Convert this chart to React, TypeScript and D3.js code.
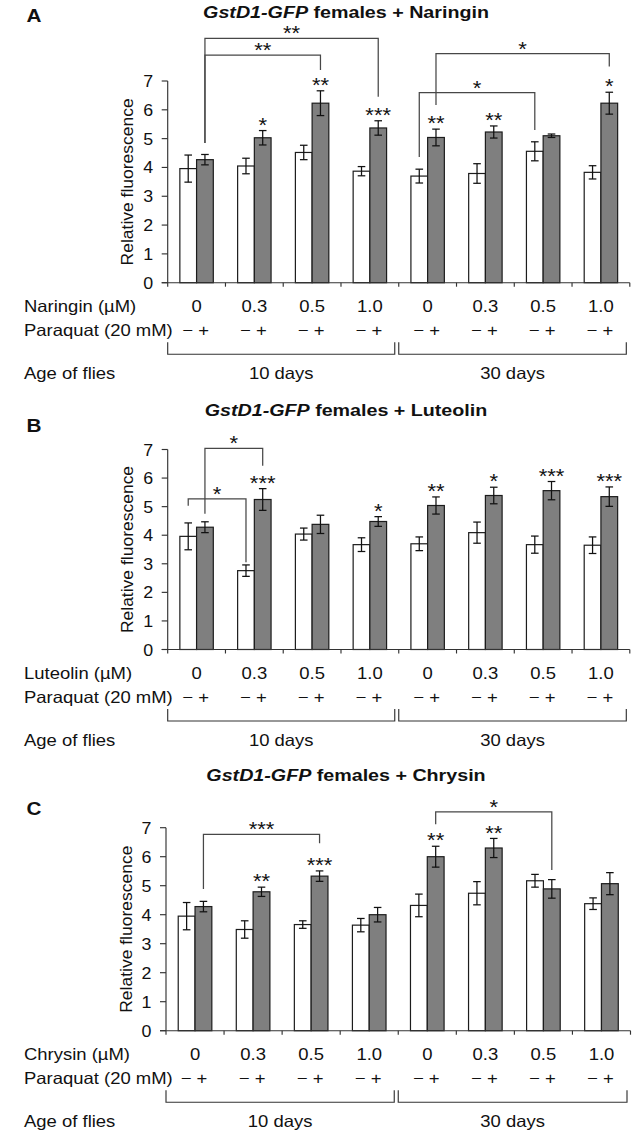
import React, { useEffect } from "react";
import * as d3 from "d3";

// ---------- data ----------
const doses = ["0", "0.3", "0.5", "1.0", "0", "0.3", "0.5", "1.0"];
const ages = ["10 days", "30 days"];
const yTicks = [0, 1, 2, 3, 4, 5, 6, 7];

// Panel A: Naringin
const naringinCtrl = [3.96, 4.05, 4.52, 3.87, 3.7, 3.79, 4.56, 3.83];
const naringinCtrlErr = [0.47, 0.27, 0.25, 0.16, 0.24, 0.34, 0.33, 0.23];
const naringinPq = [4.27, 5.03, 6.23, 5.37, 5.04, 5.23, 5.1, 6.23];
const naringinPqErr = [0.18, 0.25, 0.43, 0.25, 0.29, 0.21, 0.06, 0.38];
const naringinStars = ["", "*", "**", "***", "**", "**", "", "*"];
const naringinBrackets = [
  { from: 0, fromBar: "p", to: 3, toBar: "p", level: 8.48, fromEnd: 4.85, toEnd: 6.45, label: "**" },
  { from: 0, fromBar: "p", to: 2, toBar: "p", level: 7.9, fromEnd: 4.85, toEnd: 7.38, label: "**" },
  { from: 4, fromBar: "c", to: 6, toBar: "c", level: 6.6, fromEnd: 4.36, toEnd: 5.3, label: "*" },
  { from: 4, fromBar: "p", to: 7, toBar: "p", level: 7.95, fromEnd: 6.17, toEnd: 7.5, label: "*" },
];

// Panel B: Luteolin
const luteolinCtrl = [3.96, 2.76, 4.04, 3.67, 3.7, 4.09, 3.67, 3.65];
const luteolinCtrlErr = [0.47, 0.2, 0.21, 0.24, 0.24, 0.37, 0.3, 0.29];
const luteolinPq = [4.28, 5.25, 4.38, 4.48, 5.04, 5.39, 5.56, 5.35];
const luteolinPqErr = [0.19, 0.38, 0.32, 0.17, 0.3, 0.29, 0.32, 0.34];
const luteolinStars = ["", "***", "", "*", "**", "*", "***", "***"];
const luteolinBrackets = [
  { from: 0, fromBar: "p", to: 1, toBar: "p", level: 7.04, fromEnd: 4.75, toEnd: 6.43, label: "*" },
  { from: 0, fromBar: "c", to: 1, toBar: "c", level: 5.27, fromEnd: 5.03, toEnd: 3.05, label: "*" },
];

// Panel C: Chrysin
const chrysinCtrl = [3.95, 3.49, 3.66, 3.64, 4.32, 4.74, 5.17, 4.38];
const chrysinCtrlErr = [0.47, 0.3, 0.13, 0.23, 0.39, 0.4, 0.22, 0.2];
const chrysinPq = [4.28, 4.79, 5.33, 4.0, 6.0, 6.3, 4.89, 5.07];
const chrysinPqErr = [0.18, 0.16, 0.18, 0.25, 0.36, 0.33, 0.32, 0.38];
const chrysinStars = ["", "**", "***", "", "**", "**", "", ""];
const chrysinBrackets = [
  { from: 0, fromBar: "p", to: 2, toBar: "p", level: 6.77, fromEnd: 4.89, toEnd: 6.46, label: "***" },
  { from: 4, fromBar: "p", to: 6, toBar: "p", level: 7.55, fromEnd: 7.12, toEnd: 5.54, label: "*" },
];

// ---------- styles ----------
const FONT = "'Liberation Sans', Arial, Helvetica, sans-serif";
const INK = "#111";
const GRAY = "#7f7f7f";
const BRACKET = "#474747";
const STAR_FS = 21;
const LABEL_FS = 16.5;
const LABEL_SX = 1.12;

type TProps = {
  x: number;
  y: number;
  sx?: number;
  anchor?: "start" | "middle" | "end";
  size?: number;
  weight?: string;
  rotate?: number;
  children: React.ReactNode;
};

function T({ x, y, sx = LABEL_SX, anchor = "start", size = LABEL_FS, weight = "normal", rotate = 0, children }: TProps) {
  return (
    <text
      transform={`translate(${x},${y})${rotate ? ` rotate(${rotate})` : ""} scale(${sx},1)`}
      textAnchor={anchor}
      fontSize={size}
      fontWeight={weight}
      fontFamily={FONT}
      fill={INK}
    >
      {children}
    </text>
  );
}

type Bracket = {
  from: number;
  fromBar: string;
  to: number;
  toBar: string;
  level: number;
  fromEnd: number;
  toEnd: number;
  label: string;
};

type PanelProps = {
  letter: string;
  letterY: number;
  compound: string;
  titleY: number;
  x0: number;
  x1: number;
  y0: number;
  yTop: number;
  ctrl: number[];
  ctrlErr: number[];
  pq: number[];
  pqErr: number[];
  stars: string[];
  brackets: Bracket[];
};

function Panel(p: PanelProps) {
  const groups = d3.range(doses.length);
  const x = d3.scaleBand<number>().domain(groups).range([p.x0, p.x1]).padding(0);
  const gw = x.bandwidth();
  const inner = d3.scaleBand<string>().domain(["c", "p"]).range([0, gw]).paddingInner(0).paddingOuter(0.7275);
  const bw = inner.bandwidth();
  const y = d3.scaleLinear().domain([0, 7]).range([p.y0, p.yTop]);
  const bc = (i: number, k: string) => (x(i) as number) + (inner(k) as number) + bw / 2;
  const gc = (i: number) => (x(i) as number) + gw / 2;
  const xMid = (p.x0 + p.x1) / 2;

  const series = [
    { key: "c", vals: p.ctrl, errs: p.ctrlErr, fill: "#ffffff" },
    { key: "p", vals: p.pq, errs: p.pqErr, fill: GRAY },
  ];

  return (
    <g>
      {/* panel letter and title */}
      <T x={26.5} y={p.letterY} size={18} weight="bold" sx={1.15}>
        {p.letter}
      </T>
      <T x={346} y={p.titleY} size={16} weight="bold" sx={1.23} anchor="middle">
        <tspan fontStyle="italic">GstD1-GFP</tspan>
        <tspan>{` females + ${p.compound}`}</tspan>
      </T>

      {/* bars */}
      {series.map((s) =>
        s.vals.map((v, i) => (
          <rect
            key={s.key + i}
            x={bc(i, s.key) - bw / 2}
            y={y(v)}
            width={bw}
            height={p.y0 - y(v)}
            fill={s.fill}
            stroke="#1c1c1c"
            strokeWidth={1.2}
          />
        ))
      )}

      {/* error bars */}
      {series.map((s) =>
        s.vals.map((v, i) => {
          const cx = bc(i, s.key);
          const hi = y(v + s.errs[i]);
          const lo = y(v - s.errs[i]);
          return (
            <g key={"e" + s.key + i} stroke="#111" strokeWidth={1.25}>
              <line x1={cx} x2={cx} y1={hi} y2={lo} />
              <line x1={cx - 3.8} x2={cx + 3.8} y1={hi} y2={hi} />
              <line x1={cx - 3.8} x2={cx + 3.8} y1={lo} y2={lo} />
            </g>
          );
        })
      )}

      {/* stars above paraquat bars */}
      {p.stars.map((s, i) =>
        s ? (
          <T
            key={"s" + i}
            x={bc(i, "p")}
            y={y(p.pq[i] + p.pqErr[i]) - 11 + 0.575 * STAR_FS}
            size={STAR_FS}
            sx={1.05}
            anchor="middle"
          >
            {s}
          </T>
        ) : null
      )}

      {/* significance brackets */}
      {p.brackets.map((b, k) => {
        const xa = bc(b.from, b.fromBar);
        const xb = bc(b.to, b.toBar);
        const yl = y(b.level);
        return (
          <g key={"b" + k}>
            <path
              d={`M${xa},${y(b.fromEnd)}V${yl}H${xb}V${y(b.toEnd)}`}
              fill="none"
              stroke={BRACKET}
              strokeWidth={1.25}
            />
            <T x={(xa + xb) / 2} y={yl - 10 + 0.575 * STAR_FS} size={STAR_FS} sx={1.05} anchor="middle">
              {b.label}
            </T>
          </g>
        );
      })}

      {/* axes */}
      <g stroke="#333" strokeWidth={1.15} fill="none">
        <line x1={p.x0} x2={p.x0} y1={p.y0} y2={p.yTop} />
        <line x1={p.x0 - 6} x2={p.x1} y1={p.y0} y2={p.y0} />
        {yTicks.map((t) => (
          <line key={"yt" + t} x1={p.x0 - 6} x2={p.x0} y1={y(t)} y2={y(t)} />
        ))}
        {d3.range(doses.length + 1).map((i) => (
          <line key={"xt" + i} x1={p.x0 + i * gw} x2={p.x0 + i * gw} y1={p.y0} y2={p.y0 + 4} />
        ))}
      </g>
      {yTicks.map((t) => (
        <T key={"yl" + t} x={p.x0 - 14.5} y={y(t) + 6} anchor="end" sx={1.08}>
          {String(t)}
        </T>
      ))}
      <T x={p.x0 - 34.5} y={(p.y0 + p.yTop) / 2} rotate={-90} anchor="middle" sx={1.06}>
        Relative fluorescence
      </T>

      {/* category rows */}
      <T x={24} y={p.y0 + 29.5}>{`${p.compound} (µM)`}</T>
      <T x={24} y={p.y0 + 53.2}>Paraquat (20 mM)</T>
      <T x={24} y={p.y0 + 96}>Age of flies</T>
      {doses.map((d, i) => (
        <T key={"d" + i} x={gc(i)} y={p.y0 + 29.5} anchor="middle">
          {d}
        </T>
      ))}
      {doses.map((_, i) => (
        <T key={"pm" + i} x={gc(i) - 1} y={p.y0 + 53.2} anchor="middle">
          {"\u2212 +"}
        </T>
      ))}

      {/* age brackets */}
      {ages.map((a, k) => {
        const xa = k === 0 ? p.x0 : xMid;
        const xb = k === 0 ? xMid - 4 : p.x1 - 3.5;
        return (
          <g key={"a" + k}>
            <path
              d={`M${xa},${p.y0 + 59.5}V${p.y0 + 71.5}H${xb}V${p.y0 + 59.5}`}
              fill="none"
              stroke="#333"
              strokeWidth={1.15}
            />
            <T x={(xa + xb) / 2} y={p.y0 + 96} anchor="middle">
              {a}
            </T>
          </g>
        );
      })}
    </g>
  );
}

export default function App() {
  useEffect(() => {
    document.body.style.margin = "0";
  }, []);
  return (
    <svg
      width={634}
      height={1136}
      viewBox="0 0 634 1136"
      style={{ position: "absolute", left: 0, top: 0, background: "#fff", display: "block" }}
    >
      <rect x={0} y={0} width={634} height={1136} fill="#fff" />
      <Panel
        letter="A"
        letterY={21.7}
        compound="Naringin"
        titleY={18.3}
        x0={167.7}
        x1={629.8}
        y0={282.7}
        yTop={81}
        ctrl={naringinCtrl}
        ctrlErr={naringinCtrlErr}
        pq={naringinPq}
        pqErr={naringinPqErr}
        stars={naringinStars}
        brackets={naringinBrackets}
      />
      <Panel
        letter="B"
        letterY={431.7}
        compound="Luteolin"
        titleY={415.5}
        x0={167.7}
        x1={629.8}
        y0={649.5}
        yTop={449.5}
        ctrl={luteolinCtrl}
        ctrlErr={luteolinCtrlErr}
        pq={luteolinPq}
        pqErr={luteolinPqErr}
        stars={luteolinStars}
        brackets={luteolinBrackets}
      />
      <Panel
        letter="C"
        letterY={815.3}
        compound="Chrysin"
        titleY={781}
        x0={166}
        x1={630.5}
        y0={1030.7}
        yTop={827.7}
        ctrl={chrysinCtrl}
        ctrlErr={chrysinCtrlErr}
        pq={chrysinPq}
        pqErr={chrysinPqErr}
        stars={chrysinStars}
        brackets={chrysinBrackets}
      />
    </svg>
  );
}
